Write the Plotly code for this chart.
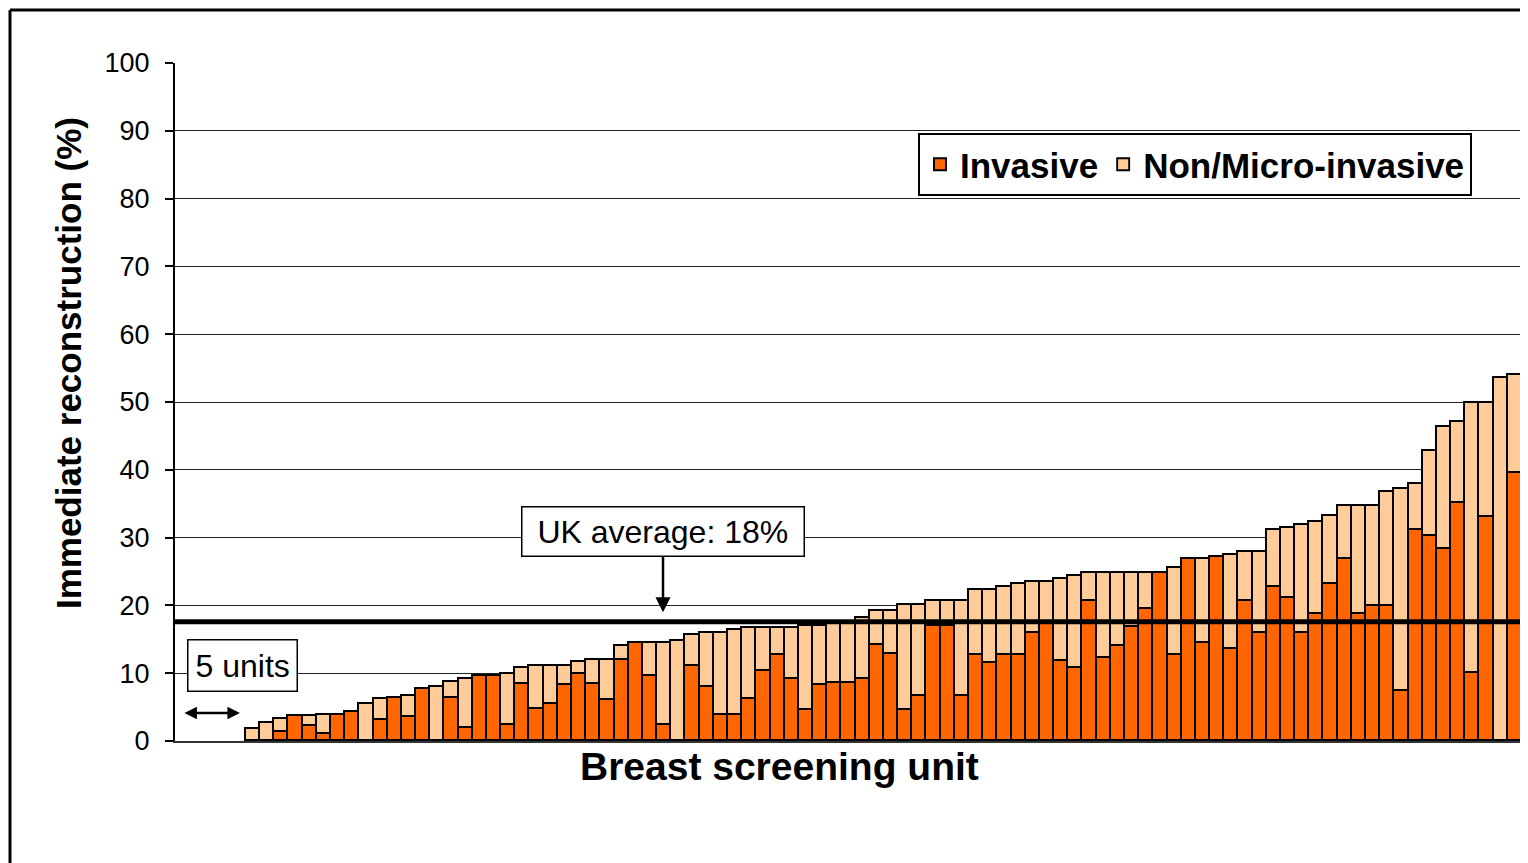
import plotly.graph_objects as go

# ---------------- data ----------------
n_empty_units = 5                     # units with no data at the left
units = list(range(n_empty_units + 1, n_empty_units + 91))

invasive = [0, 0, 1.4, 3.7, 2.2, 1.0, 3.9, 4.3, 0, 3.1,
            6.3, 3.6, 7.6, 0, 6.4, 1.9, 9.6, 9.6, 2.3, 8.4,
            4.7, 5.5, 8.3, 9.9, 8.4, 6.0, 12.0, 14.4, 9.6, 2.3,
            0, 11.1, 7.9, 3.9, 3.9, 6.2, 10.3, 12.7, 9.1, 4.6,
            8.3, 8.6, 8.6, 9.1, 14.2, 12.8, 4.5, 6.6, 17.0, 17.0,
            6.6, 12.7, 11.5, 12.7, 12.7, 15.9, 17.4, 11.8, 10.7, 20.6,
            12.2, 14.0, 16.8, 19.5, 24.8, 12.7, 26.8, 14.4, 27.2, 13.5,
            20.7, 16.0, 22.7, 21.1, 16.0, 18.7, 23.1, 26.8, 18.7, 19.9,
            19.9, 7.4, 31.1, 30.3, 28.3, 35.1, 10.1, 33.1, 0, 39.5]

non_micro = [1.8, 2.6, 1.8, 0, 1.5, 2.9, 0, 0, 5.5, 3.1,
             0, 3.1, 0, 8.0, 2.3, 7.3, 0, 0, 7.6, 2.3,
             6.4, 5.6, 2.8, 1.7, 3.5, 5.9, 2.0, 0, 4.8, 12.1,
             14.8, 4.5, 8.1, 12.1, 12.4, 10.5, 6.4, 4.0, 7.6, 12.4,
             8.7, 8.8, 9.0, 9.0, 5.0, 6.4, 15.5, 13.4, 3.7, 3.7,
             14.1, 9.6, 10.8, 10.0, 10.5, 7.6, 6.1, 12.1, 13.6, 4.2,
             12.6, 10.8, 8.0, 5.3, 0, 12.8, 0, 12.4, 0, 14.0,
             7.2, 11.9, 8.4, 10.3, 15.9, 13.6, 10.1, 7.9, 16.0, 14.8,
             16.9, 29.7, 6.8, 12.5, 18.0, 12.0, 39.8, 16.8, 53.5, 14.5]

uk_average = 17.6
y_ticks = [0, 10, 20, 30, 40, 50, 60, 70, 80, 90, 100]

# ---------------- styling ----------------
ORANGE = "#FF6600"
PEACH = "#FFCC99"
FONT = "Liberation Sans, Arial, sans-serif"

fig = go.Figure()
fig.add_trace(go.Bar(x=units, y=invasive, name="Invasive",
                     marker=dict(color=ORANGE, line=dict(color="black", width=1.9))))
fig.add_trace(go.Bar(x=units, y=non_micro, name="Non/Micro-invasive",
                     marker=dict(color=PEACH, line=dict(color="black", width=1.9))))

fig.update_layout(
    width=1520, height=855,
    margin=dict(l=167, r=6, t=55, b=122),
    paper_bgcolor="white", plot_bgcolor="white",
    barmode="stack", bargap=0,
    font=dict(family=FONT, color="black"),
    showlegend=True,
    legend=dict(orientation="h", x=0.5516, y=0.8968, xanchor="left", yanchor="top",
                bordercolor="black", borderwidth=2, bgcolor="white",
                font=dict(family=FONT, size=35, color="black", weight="bold"),
                itemwidth=30, traceorder="normal"),
    xaxis=dict(range=[0.5, 95.5], showticklabels=False, ticks="", showgrid=False,
               showline=True, linecolor="#333", linewidth=2, zeroline=False),
    yaxis=dict(range=[0, 100], tickvals=y_ticks, showgrid=True, gridcolor="#222",
               gridwidth=1, ticks="outside", ticklen=8, tickwidth=2, tickcolor="black",
               showline=True, linecolor="black", linewidth=2, zeroline=False,
               tickfont=dict(family=FONT, size=27, color="black"),
               ticklabelstandoff=10),
)

# UK average line (extends past the plot area to the right edge)
fig.add_shape(type="line", xref="paper", yref="y", x0=0, x1=1.01,
              y0=uk_average, y1=uk_average, line=dict(color="black", width=5))
# gray right border of plot area
fig.add_shape(type="line", xref="paper", yref="paper", x0=1, x1=1, y0=0, y1=1,
              line=dict(color="#888", width=2))
# outer chart frame (top and left edges visible)
fig.add_shape(type="line", xref="paper", yref="paper", x0=-0.1225, x1=1.1,
              y0=1.0782, y1=1.0782, line=dict(color="black", width=3))
fig.add_shape(type="line", xref="paper", yref="paper", x0=-0.1225, x1=-0.1225,
              y0=1.0782, y1=-0.3, line=dict(color="black", width=3))

# axis titles
fig.add_annotation(text="<b>Immediate reconstruction (%)</b>", xref="paper", yref="paper",
                   x=-0.0794, y=0.5575, xanchor="center", yanchor="middle",
                   textangle=-90, showarrow=False,
                   font=dict(family=FONT, size=35, color="black"))
fig.add_annotation(text="<b>Breast screening unit</b>", xref="paper", yref="paper",
                   x=0.4491, y=-0.0383, xanchor="center", yanchor="middle",
                   showarrow=False,
                   font=dict(family=FONT, size=39, color="black"))

# UK average call-out
fig.add_annotation(text="\u00a0UK average: 18%\u00a0", xref="paper", yref="y",
                   x=0.3623, y=19.0, ax=0, ay=-81, showarrow=True,
                   arrowhead=2, arrowsize=1.2, arrowwidth=2.5, arrowcolor="black",
                   bordercolor="black", borderwidth=1.5, borderpad=6, bgcolor="white",
                   font=dict(family=FONT, size=32, color="black"))

# 5 units label and double-headed arrow
fig.add_annotation(text="5 units", xref="paper", yref="paper", x=0.0501, y=0.1114,
                   xanchor="center", yanchor="middle",
                   showarrow=False, bordercolor="black", borderwidth=1.5, borderpad=7,
                   bgcolor="white", font=dict(family=FONT, size=32, color="black"))
fig.add_annotation(text="", xref="paper", yref="paper", x=0.0482, y=0.0413,
                   ax=-57, ay=0, showarrow=True, arrowside="end+start",
                   arrowhead=2, startarrowhead=2, arrowsize=1, startarrowsize=1,
                   arrowwidth=2.5, arrowcolor="black")

fig.write_html("out.html")
